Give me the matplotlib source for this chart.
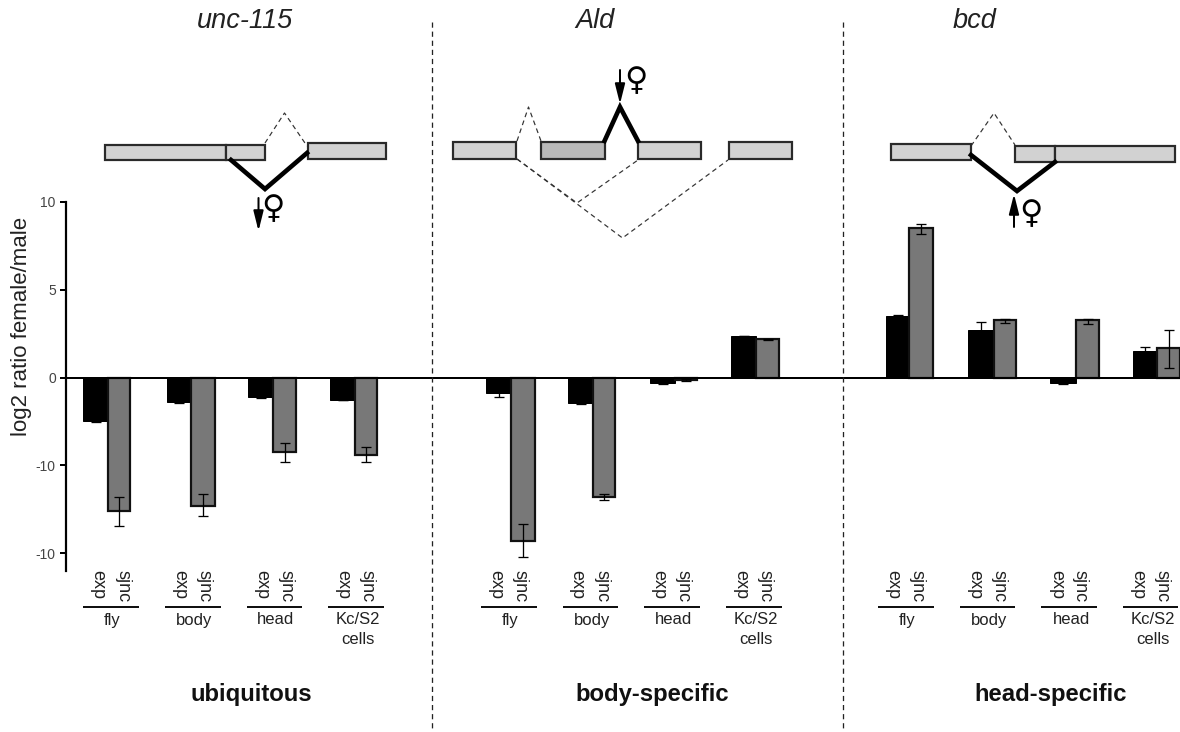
import matplotlib
matplotlib.use("Agg")
import matplotlib.pyplot as plt
from matplotlib.patches import Rectangle

plt.rcParams['font.family'] = ['Liberation Sans', 'DejaVu Sans']

# ---------- data (log2 ratio female/male) ----------
genes = ['unc-115', 'Ald', 'bcd']
classes = ['ubiquitous', 'body-specific', 'head-specific']
tissues = ['fly', 'body', 'head', 'Kc/S2\ncells']
bar_names = ['exp', 'sjnc']
y_ticks = [10, 5, 0, -5, -10]
y_tick_labels = ['10', '5', '0', '-10', '-10']

exp_values = [-2.46, -1.38, -1.09, -1.28,  -0.86, -1.43, -0.30, 2.36,  3.48, 2.70, -0.30, 1.51]
exp_err_lo = [-2.52, -1.45, -1.14, -1.30,  -1.13, -1.50, -0.37, 2.34,  3.44, 2.40, -0.36, 1.40]
exp_err_hi = [-2.40, -1.33, -1.05, -1.26,  -0.70, -1.36, -0.24, 2.38,  3.55, 3.14, -0.25, 1.72]

sjnc_values = [-7.58, -7.29, -4.24, -4.39,  -9.29, -6.78, -0.14, 2.17,  8.51, 3.25, 3.25, 1.68]
sjnc_err_lo = [-8.43, -7.86, -4.83, -4.83, -10.20, -6.97, -0.20, 2.15,  8.15, 3.12, 3.05, 0.56]
sjnc_err_hi = [-6.80, -6.65, -3.75, -3.97,  -8.36, -6.65, -0.10, 2.19,  8.74, 3.33, 3.33, 2.70]

# ---------- layout (pixels) ----------
W, H = 1180, 732
PX_PER_UNIT = 17.57
Y0 = 377.5
exp_edges = [83, 167, 248, 330,  486, 568, 650, 731,  886, 968, 1050, 1133]
mid_edges = [108, 191, 273, 355,  511, 593, 675, 756,  909, 994, 1076, 1157]
sjnc_edges = [130, 215, 296, 377,  535, 615, 697, 779,  933, 1016, 1099, 1180]
exp_text_x = [98, 180, 262, 343,  496, 577, 659, 741,  893, 975, 1057, 1138]
sjnc_text_x = [123, 204, 286, 367,  520, 602, 683, 765,  917, 999, 1080, 1162]
tissue_x = [112, 194, 276, 358,  510, 592, 674, 756,  907, 989, 1071, 1153]
rule_l = [84, 166, 248, 329,  482, 564, 645, 727,  879, 961, 1042, 1124]
rule_r = [138, 220, 301, 383,  536, 617, 699, 781,  933, 1014, 1096, 1177]


def px(p):
    return p * 0.72


fig = plt.figure(figsize=(W / 100, H / 100), dpi=100, facecolor='white')
ax = fig.add_axes([0, 0, 1, 1])
ax.set_xlim(0, W)
ax.set_ylim((Y0 - H) / PX_PER_UNIT, Y0 / PX_PER_UNIT)
ax.patch.set_alpha(0)
for s in ('top', 'right', 'bottom'):
    ax.spines[s].set_visible(False)
ax.spines['left'].set_position(('data', 66))
ax.spines['left'].set_bounds(-11, 10)
ax.spines['left'].set_linewidth(px(2.2))
ax.set_xticks([])
ax.set_yticks(y_ticks)
ax.set_yticklabels(y_tick_labels, fontsize=10, color='#444444')
ax.tick_params(axis='y', direction='out', length=px(6), width=px(2), pad=3, color='black')

for i in range(12):
    ax.bar(exp_edges[i], exp_values[i], width=mid_edges[i] - exp_edges[i], align='edge',
           color='black', edgecolor='black', linewidth=px(1), zorder=3)
    ax.bar(mid_edges[i], sjnc_values[i], width=sjnc_edges[i] - mid_edges[i], align='edge',
           color='#787878', edgecolor='#111111', linewidth=px(2.2), zorder=4)
    ex = (exp_edges[i] + mid_edges[i]) / 2
    sx = (mid_edges[i] + sjnc_edges[i]) / 2
    ax.errorbar(ex, exp_values[i],
                yerr=[[exp_values[i] - exp_err_lo[i]], [exp_err_hi[i] - exp_values[i]]],
                color='black', lw=px(1.3), capsize=px(5), capthick=px(1.3), zorder=5)
    ax.errorbar(sx, sjnc_values[i],
                yerr=[[sjnc_values[i] - sjnc_err_lo[i]], [sjnc_err_hi[i] - sjnc_values[i]]],
                color='black', lw=px(1.3), capsize=px(5), capthick=px(1.3), zorder=5)

ax.axhline(0, xmin=66 / W, xmax=1, color='black', lw=px(2), zorder=6)

# ---------- overlay in pixel coordinates ----------
ov = fig.add_axes([0, 0, 1, 1], zorder=10)
ov.set_xlim(0, W)
ov.set_ylim(H, 0)
ov.axis('off')
ov.patch.set_alpha(0)

ov.text(22, 326.5, 'log2 ratio female/male', rotation=90, fontsize=16, color='#222222',
        ha='center', va='center')

for i in range(12):
    ov.text(exp_text_x[i], 570, bar_names[0], rotation=-90, fontsize=13, color='#222222',
            ha='center', va='top')
    ov.text(sjnc_text_x[i], 570, bar_names[1], rotation=-90, fontsize=13, color='#222222',
            ha='center', va='top')
    ov.plot([rule_l[i], rule_r[i]], [607, 607], color='#111111', lw=px(2))
    ov.text(tissue_x[i], 620, tissues[i % 4].split('\n')[0], fontsize=12, color='#222222',
            ha='center', va='center')
    if '\n' in tissues[i % 4]:
        ov.text(tissue_x[i], 640, tissues[i % 4].split('\n')[1], fontsize=12, color='#222222',
                ha='center', va='center')

for x, g in zip([245, 595, 975], genes):
    ov.text(x, 21, g, fontsize=19.5, style='italic', color='#222222', ha='center', va='center')
for x, c in zip([251.5, 652, 1051], classes):
    ov.text(x, 695, c, fontsize=17.2, fontweight='bold', color='#111111', ha='center', va='center')

for x in (432, 843):
    ov.plot([x, x], [22, 732], color='#222222', lw=px(1.3), ls=(0, (4, 3)))


def box(x0, x1, y0, y1, fc='#d2d2d2'):
    ov.add_patch(Rectangle((x0, y0), x1 - x0, y1 - y0, fc=fc, ec='#2a2a2a', lw=px(2.2), zorder=4))


def solid(xs, ys):
    ov.plot(xs, ys, color='black', lw=px(4.6), solid_joinstyle='miter', zorder=5)


def dashed(xs, ys):
    ov.plot(xs, ys, color='#333333', lw=px(1.2), ls=(0, (4, 3)), zorder=3)


def arrow(x, y_from, y_to):
    ov.annotate('', xy=(x, y_to), xytext=(x, y_from),
                arrowprops=dict(arrowstyle='-|>,head_width=0.3,head_length=1.2',
                                color='black', lw=px(2), shrinkA=0, shrinkB=0), zorder=6)


def female(x, y):
    ov.text(x, y, '\u2640', fontsize=28, family=['DejaVu Sans Mono', 'DejaVu Sans'], color='black',
            ha='center', va='center', zorder=6)


# unc-115
box(105, 226, 144.5, 160)
box(226, 265, 144.5, 160)
box(307.5, 385.5, 142.5, 158.5)
solid([231, 265, 307], [160, 189, 153])
dashed([265, 284.5, 307], [143, 113, 146])
arrow(258.5, 198, 231)
female(273, 209)

# Ald
box(452.5, 516, 141.5, 159)
box(541, 604.5, 141.5, 159, fc='#b9b9b9')
box(638, 701, 141.5, 159)
box(728.5, 792, 141.5, 159)
solid([604.5, 620, 638], [141, 107, 141])
dashed([517, 528.5, 541], [141, 107, 141])
dashed([517, 622.5, 728], [159, 238, 160])
dashed([517, 577, 638], [159, 203, 160])
arrow(620, 70, 104)
female(636, 81)

# bcd
box(891, 970.5, 143.5, 159.5)
box(1015, 1055, 145.5, 161.5)
box(1055, 1175, 145.5, 161.5)
solid([971, 1017, 1055], [155, 191, 162])
dashed([971, 994, 1015], [146, 113, 145])
arrow(1014, 227, 194)
female(1031, 214)

fig.savefig('out.png', dpi=100, facecolor='white')
